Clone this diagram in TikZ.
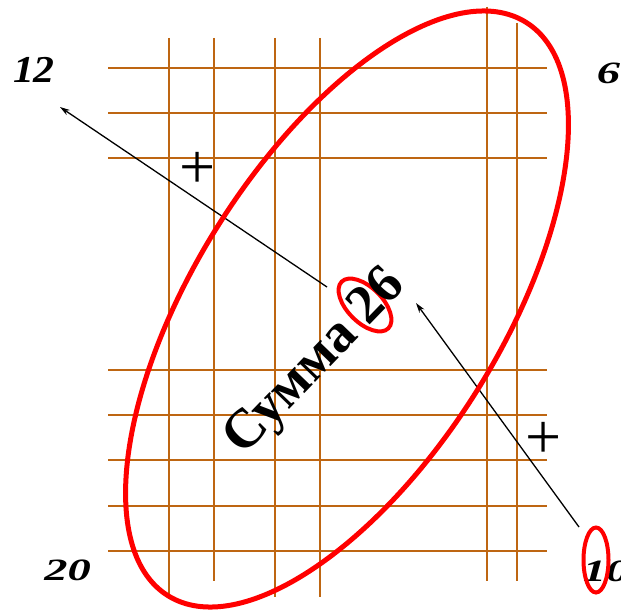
\documentclass[tikz,border=0pt]{standalone}
\usepackage{fontspec}
\setmainfont{Liberation Serif}
\usetikzlibrary{arrows.meta}
\definecolor{gridbrown}{RGB}{190,102,18}
\definecolor{ellred}{RGB}{255,0,0}
\begin{document}
\begin{tikzpicture}[x=1pt,y=-1pt,
  gridline/.style={draw=gridbrown,line width=2.4pt},
  bigell/.style={draw=ellred,line width=5pt},
  smallell/.style={draw=ellred,line width=4pt},
  arr/.style={draw=black,line width=1.3pt,-{Stealth[length=10pt,width=6pt]}},
  num/.style={inner sep=0pt,font=\fontsize{31}{31}\selectfont\bfseries\itshape},
  bignum/.style={inner sep=0pt,font=\fontsize{38}{38}\selectfont\bfseries\itshape},
  plussign/.style={inner sep=0pt,font=\fontsize{64}{64}\selectfont},
  sumtext/.style={inner sep=0pt,font=\fontsize{55}{55}\selectfont\bfseries}]
\useasboundingbox (0,0) rectangle (621,610);
\clip (0,0) rectangle (621,610);
\fill[white] (0,0) rectangle (621,610);
% grid
\foreach \yy in {68,113,158,370,415,460,506,551}
  \draw[gridline] (108,\yy) -- (547,\yy);
\draw[gridline] (169,38) -- (169,595);
\draw[gridline] (214,38) -- (214,581);
\draw[gridline] (275,38) -- (275,597);
\draw[gridline] (320,38) -- (320,597);
\draw[gridline] (487,7) -- (487,581);
\draw[gridline] (517,23) -- (517,581);
% labels
\node[bignum] (n12) at (34,70) {\scalebox{1.1}[1]{12}};
\node[num] (n6) at (608.5,73) {\scalebox{1.5}[1]{6}};
\node[num] (n20) at (67.5,570) {\scalebox{1.5}[1]{20}};
\node[num] (n10) at (606,571) {\scalebox{1.5}[1]{10}};
\node[plussign] (p1) at (198,170) {+};
\node[plussign] (p2) at (544,440) {+};
% arrows
\coordinate (a1s) at (327,287);
\coordinate (a1e) at (60,107);
\coordinate (a2s) at (579,527);
\coordinate (a2e) at (416,303);
\draw[arr] (a1s) -- (a1e);
\draw[arr] (a2s) -- (a2e);
% ellipses
\draw[bigell, rotate around={58:(347,309)}] (347,309) ellipse [x radius=338, y radius=153.5];
\draw[smallell, rotate around={-45:(365,305)}] (365,305) ellipse [x radius=33, y radius=17.5];
\draw[smallell] (596,560) ellipse [x radius=12.5, y radius=32.5];
% main text
\node[sumtext, anchor=base, rotate=46] (sum) at (325,372) {Сумма 26};
\end{tikzpicture}
\end{document}
